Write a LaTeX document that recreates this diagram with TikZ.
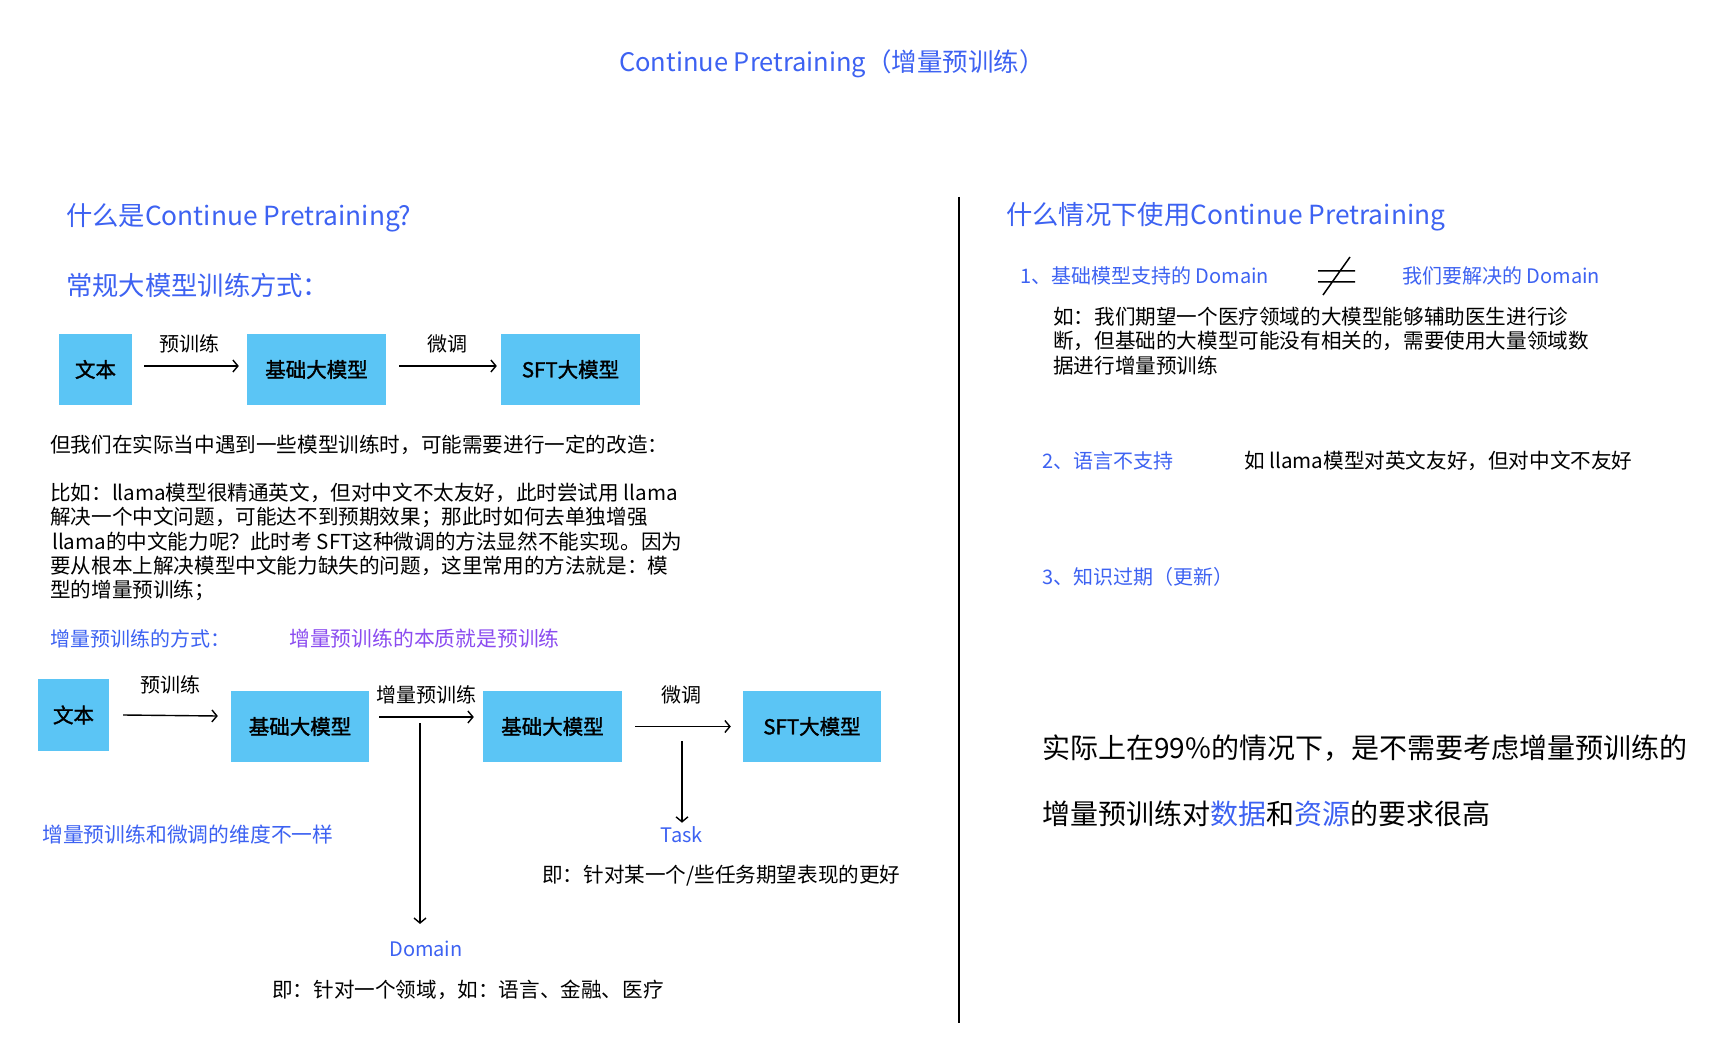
\documentclass[tikz,border=0pt]{standalone}
\usepackage{fontspec}
\setmainfont{Noto Sans CJK SC}
\newfontfamily\boxfont{Noto Sans CJK SC}[FakeBold=1.6]
\usetikzlibrary{arrows.meta}
\definecolor{boxblue}{HTML}{5BC5F5}
\definecolor{tblue}{HTML}{3D62F2}
\definecolor{tpurple}{HTML}{8B4CF0}
\begin{document}
\begin{tikzpicture}[x=1pt,y=-1pt,
  bx/.style={fill=boxblue, draw=none, inner sep=0, font=\fontsize{20.5}{24}\boxfont},
  arr/.style={-{Straight Barb[length=5pt,width=12pt]}, line width=1.4pt},
  lbl/.style={inner sep=0, font=\fontsize{20}{24}\selectfont},
  body/.style={inner sep=0, align=left, font=\fontsize{20.6}{24.4}\selectfont},
  head/.style={inner sep=0, text=tblue, font=\fontsize{26.3}{30}\selectfont},
  blu/.style={inner sep=0, text=tblue, font=\fontsize{20}{24}\selectfont},
  big/.style={inner sep=0, font=\fontsize{28}{32}\selectfont}
]
\useasboundingbox[fill=white] (0,0) rectangle (1734,1040);

% title
\node[inner sep=0, text=tblue, font=\fontsize{25.5}{30}\selectfont] (title) at (832,64) {Continue Pretraining（增量预训练）};

% left headings
\node[head, anchor=west] (h1) at (66,218) {什么是Continue Pretraining?};
\node[head, anchor=west] (h2) at (66,285) {常规大模型训练方式：};

% row 1
\node[bx, minimum width=73, minimum height=71] (t1) at (95.5,369.5) {文本};
\node[bx, minimum width=139, minimum height=71] (b1) at (316.5,369.5) {基础大模型};
\node[bx, minimum width=139, minimum height=71] (s1) at (570.5,369.5) {SFT大模型};
\draw[arr] ([xshift=12pt,yshift=3.5pt]t1.east) -- ([xshift=-8pt,yshift=3.5pt]b1.west);
\draw[arr] ([xshift=13pt,yshift=3.5pt]b1.east) -- ([xshift=-4pt,yshift=3.5pt]s1.west);
\node[lbl] (l1) at (189,344) {预训练};
\node[lbl] (l2) at (447,344) {微调};

% paragraph
\node[body, anchor=west] (p0) at (50,445) {但我们在实际当中遇到一些模型训练时，可能需要进行一定的改造：};
\node[body, anchor=west] (p1) at (50,542) {比如：llama模型很精通英文，但对中文不太友好，此时尝试用 llama\\
解决一个中文问题，可能达不到预期效果；那此时如何去单独增强\\
\hspace{2pt}llama的中文能力呢？此时考 SFT这种微调的方法显然不能实现。因为\\
要从根本上解决模型中文能力缺失的问题，这里常用的方法就是：模\\
型的增量预训练；};

\node[blu, anchor=west] (m1) at (50,639) {增量预训练的方式：};
\node[inner sep=0, text=tpurple, anchor=west, font=\fontsize{20.8}{24}\selectfont] (m2) at (289,639) {增量预训练的本质就是预训练};

% row 2
\node[bx, minimum width=71, minimum height=72] (t2) at (73.5,715) {文本};
\node[bx, minimum width=138, minimum height=71] (b2) at (300,726.5) {基础大模型};
\node[bx, minimum width=139, minimum height=71] (b3) at (552.5,726.5) {基础大模型};
\node[bx, minimum width=138, minimum height=71] (s2) at (812,726.5) {SFT大模型};
\draw[arr] ([xshift=14pt]t2.east) -- ([xshift=-13pt,yshift=10.5pt]b2.west);
\draw[arr] ([xshift=10pt,yshift=9.5pt]b2.east) -- ([xshift=-9pt,yshift=9.5pt]b3.west);
\draw[arr] ([xshift=13pt]b3.east) -- ([xshift=-12pt]s2.west);
\node[lbl] (l3) at (170,685) {预训练};
\node[lbl] (l4) at (426,695) {增量预训练};
\node[lbl] (l5) at (681,695) {微调};

\node[blu] (dom) at (426,949) {Domain};
\node[blu] (tsk) at (682,835) {Task};
\coordinate (dtop) at (420,723);
\coordinate (ttop) at (682,741);
\draw[arr] (dtop) -- ([yshift=17pt]dtop |- dom.north);
\draw[arr] (ttop) -- ([yshift=4pt]tsk.north);

\node[body, anchor=west] (dd) at (272,990) {即：针对一个领域，如：语言、金融、医疗};
\node[body, anchor=west] (td) at (542,876) {即：针对某一个/些任务期望表现的更好};
\node[blu, anchor=west, font=\fontsize{20.8}{24}\selectfont] (dim) at (42,835) {增量预训练和微调的维度不一样};

% divider
\coordinate (vt) at (959,197);
\coordinate (vb) at (959,1023);
\draw[line width=1.6pt] (vt) -- (vb);

% right side
\node[head, anchor=west] (h3) at (1006,217) {什么情况下使用Continue Pretraining};
\node[blu, anchor=west] (r1) at (1020,276) {1、基础模型支持的 Domain};
\node[blu, anchor=west] (r1b) at (1402,276) {我们要解决的 Domain};
\coordinate (ne1) at (1318,271);
\coordinate (ne2) at (1355,271);
\coordinate (ne3) at (1318,282);
\coordinate (ne4) at (1355,282);
\coordinate (ne5) at (1350,257);
\coordinate (ne6) at (1323,295);
\draw[line width=1.5pt] (ne1) -- (ne2) (ne3) -- (ne4) (ne5) -- (ne6);
\node[body, anchor=west] (rp) at (1053,341) {如：我们期望一个医疗领域的大模型能够辅助医生进行诊\\
断，但基础的大模型可能没有相关的，需要使用大量领域数\\
据进行增量预训练};

\node[blu, anchor=west] (r2) at (1042,461) {2、语言不支持};
\node[body, anchor=west] (r2b) at (1244,461) {如 llama模型对英文友好，但对中文不友好};
\node[blu, anchor=west] (r3) at (1042,577) {3、知识过期（更新）};

\node[big, anchor=west] (k1) at (1042,748) {实际上在99\%的情况下，是不需要考虑增量预训练的};
\node[big, anchor=west] (k2) at (1042,814) {增量预训练对\textcolor{tblue}{数据}和\textcolor{tblue}{资源}的要求很高};
\end{tikzpicture}
\end{document}
